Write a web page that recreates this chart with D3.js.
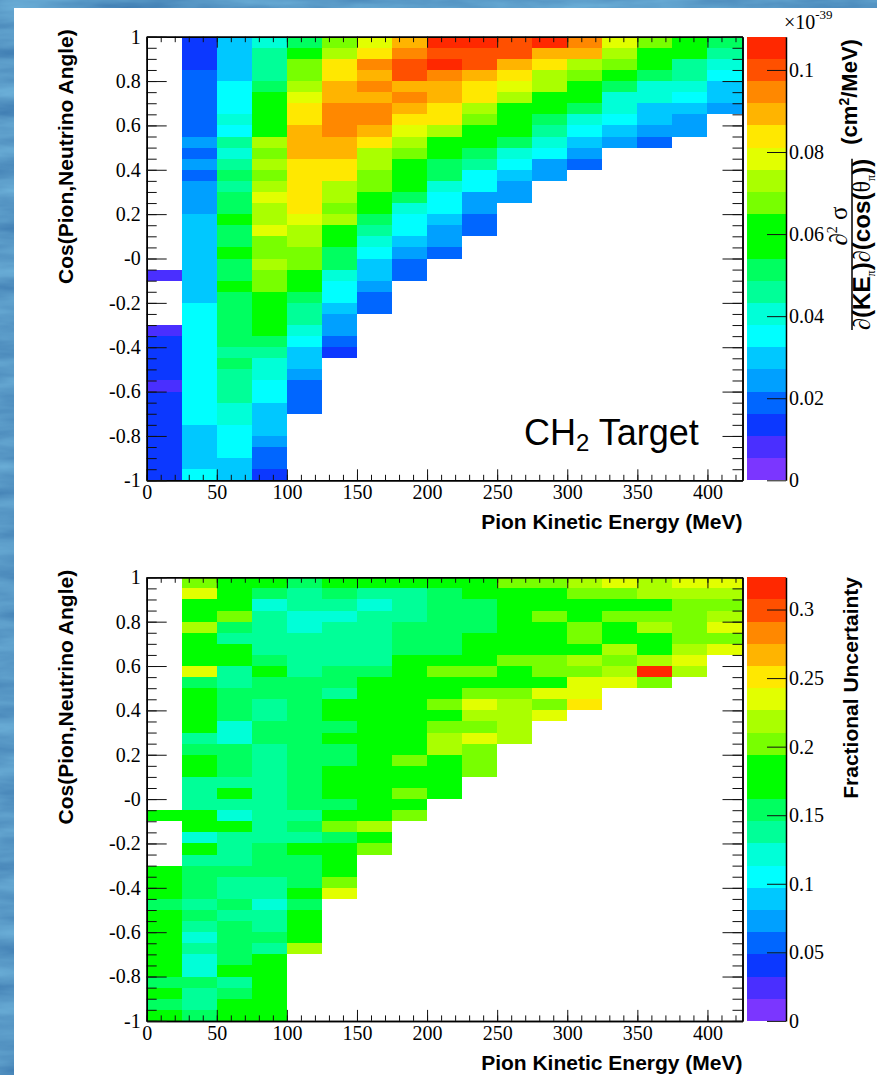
<!DOCTYPE html>
<html><head><meta charset="utf-8">
<script src="https://cdn.jsdelivr.net/npm/d3@7"></script>
<style>body{margin:0;background:#245494}svg{display:block}</style>
</head><body><svg id="c" width="877" height="1075"></svg>
<script>
const _ = null;
// bin edges
const energyEdges = [0,25,50,75,100,125,150,175,200,225,250,275,300,325,350,375,400,425];
const cosEdges = [1,0.95,0.9,0.85,0.8,0.75,0.7,0.65,0.6,0.55,0.5,0.45,0.4,0.35,0.3,0.25,0.2,0.15,0.1,0.05,0,
  -0.05,-0.1,-0.15,-0.2,-0.25,-0.3,-0.35,-0.4,-0.45,-0.5,-0.55,-0.6,-0.65,-0.7,-0.75,-0.8,-0.85,-0.9,-0.95,-1];
const xTickValues = [0,50,100,150,200,250,300,350,400];
const xTickLabels = ["0","50","100","150","200","250","300","350","400"];
const yTickValues = [1,0.8,0.6,0.4,0.2,0,-0.2,-0.4,-0.6,-0.8,-1];
const yTickLabels = ["1","0.8","0.6","0.4","0.2","-0","-0.2","-0.4","-0.6","-0.8","-1"];
const xsecTickValues = [0,0.02,0.04,0.06,0.08,0.1];
const xsecTickLabels = ["0","0.02","0.04","0.06","0.08","0.1"];
const uncTickValues = [0,0.05,0.1,0.15,0.2,0.25,0.3];
const uncTickLabels = ["0","0.05","0.1","0.15","0.2","0.25","0.3"];
const xsecMax = 0.1081;   // x10^-39 cm^2/MeV
const uncMax = 0.3235;
const palette = ["#7b36ff","#4a2fff","#0c38ff","#0066ff","#00a0ff","#00c8ff","#00ffff","#00ffd8","#00ff98","#00ff60",
  "#00ff00","#00ff00","#78ff00","#aaff00","#e2ff00","#ffe800","#ffb400","#ff8800","#ff5000","#ff2800"];

// cross section (rows from cos=1 down to cos=-1, columns 0..425 MeV)
const xsecRows = [
 [_,.014,.030,.040,.051,.068,.078,.089,.105,.105,.100,.105,.095,.078,.068,.060,.051],
 [_,.014,.030,.046,.060,.073,.084,.095,.100,.100,.100,.089,.089,.073,.060,.060,.046],
 [_,.014,.030,.046,.068,.084,.095,.100,.105,.100,.089,.084,.073,.068,.060,.046,.040],
 [_,.019,.030,.046,.068,.084,.089,.100,.095,.089,.084,.073,.068,.060,.051,.046,.035],
 [_,.019,.035,.051,.073,.089,.095,.089,.089,.084,.078,.073,.060,.051,.040,.040,.030],
 [_,.019,.035,.060,.078,.089,.089,.095,.089,.084,.073,.060,.060,.040,.040,.035,.030],
 [_,.019,.035,.060,.084,.095,.095,.089,.084,.073,.060,.060,.051,.040,.030,.030,.024],
 [_,.019,.040,.060,.084,.095,.095,.084,.084,.068,.060,.051,.040,.035,.030,.024],
 [_,.019,.035,.060,.089,.095,.089,.078,.073,.060,.060,.046,.035,.030,.024,.024],
 [_,.024,.046,.073,.089,.089,.084,.073,.060,.060,.051,.040,.030,.024,.019],
 [_,.019,.040,.068,.089,.089,.073,.068,.060,.051,.040,.035,.024],
 [_,.024,.046,.073,.084,.084,.073,.060,.051,.046,.035,.024,.019],
 [_,.019,.051,.068,.084,.084,.068,.060,.051,.035,.030,.024],
 [_,.024,.046,.073,.084,.073,.068,.060,.040,.035,.024],
 [_,.024,.051,.078,.084,.073,.060,.051,.035,.024,.024],
 [_,.024,.051,.073,.084,.068,.060,.040,.035,.024],
 [_,.030,.060,.073,.078,.073,.051,.035,.030,.019],
 [_,.030,.051,.078,.073,.060,.046,.035,.024,.019],
 [_,.030,.051,.068,.073,.060,.040,.030,.024],
 [_,.030,.060,.068,.068,.051,.035,.024,.019],
 [_,.030,.051,.073,.068,.051,.030,.019],
 [.008,.030,.051,.068,.060,.040,.030,.019],
 [_,.030,.060,.068,.060,.035,.024],
 [_,.030,.051,.060,.051,.035,.019],
 [_,.035,.051,.060,.046,.030,.019],
 [_,.035,.051,.060,.046,.024],
 [.008,.035,.051,.060,.040,.024],
 [.014,.035,.051,.051,.035,.019],
 [.014,.035,.046,.046,.030,.014],
 [.014,.035,.051,.040,.030],
 [.014,.035,.046,.040,.024],
 [.008,.035,.046,.035,.019],
 [.014,.035,.046,.035,.019],
 [.014,.035,.040,.030,.019],
 [.014,.035,.040,.030],
 [.014,.030,.035,.030],
 [.014,.030,.035,.024],
 [.014,.030,.035,.019],
 [.014,.030,.030,.019],
 [.014,.035,.030,.014]
];

// fractional uncertainty
const uncRows = [
 [_,.202,.180,.180,.154,.180,.180,.180,.180,.180,.202,.202,.218,.235,.218,.235,.235],
 [_,.235,.180,.154,.137,.154,.137,.137,.154,.180,.180,.180,.202,.202,.218,.218,.218],
 [_,.180,.180,.121,.137,.137,.121,.137,.154,.154,.180,.180,.180,.180,.180,.202,.202],
 [_,.180,.202,.137,.121,.121,.137,.137,.154,.154,.180,.202,.180,.202,.202,.202,.218],
 [_,.218,.154,.137,.121,.137,.137,.154,.154,.154,.180,.180,.202,.180,.218,.202,.235],
 [_,.180,.137,.137,.137,.137,.137,.154,.154,.180,.180,.180,.202,.180,.180,.202,.202],
 [_,.180,.180,.137,.137,.137,.137,.154,.154,.180,.180,.180,.180,.218,.180,.218,.235],
 [_,.180,.180,.154,.137,.137,.137,.180,.180,.180,.202,.202,.218,.202,.218,.235],
 [_,.235,.137,.180,.137,.154,.154,.180,.202,.202,.180,.202,.202,.218,.315,.218],
 [_,.154,.137,.154,.154,.154,.180,.180,.180,.180,.180,.180,.235,.235,.202],
 [_,.180,.154,.154,.154,.137,.180,.180,.180,.202,.202,.235,.235],
 [_,.180,.154,.137,.154,.180,.180,.180,.202,.235,.218,.202,.251],
 [_,.180,.154,.137,.154,.180,.180,.180,.180,.218,.218,.235],
 [_,.180,.121,.154,.154,.154,.180,.180,.202,.202,.218],
 [_,.137,.121,.154,.154,.180,.180,.180,.218,.235,.218],
 [_,.154,.154,.137,.154,.154,.180,.180,.218,.202],
 [_,.180,.154,.137,.154,.154,.180,.202,.180,.202],
 [_,.180,.154,.137,.154,.180,.180,.180,.180,.202],
 [_,.137,.137,.137,.154,.180,.180,.180,.180],
 [_,.137,.180,.137,.154,.180,.180,.202,.180],
 [_,.137,.137,.137,.154,.154,.180,.180],
 [.180,.180,.121,.137,.137,.180,.180,.202],
 [_,.180,.180,.137,.154,.202,.218],
 [_,.121,.137,.137,.137,.154,.180],
 [_,.180,.137,.154,.180,.180,.202],
 [_,.137,.137,.154,.154,.180],
 [.180,.154,.154,.154,.154,.180],
 [.180,.154,.137,.137,.154,.202],
 [.180,.154,.137,.137,.180,.235],
 [.154,.137,.154,.121,.154],
 [.180,.154,.137,.137,.180],
 [.180,.137,.154,.137,.180],
 [.180,.121,.154,.154,.180],
 [.180,.137,.154,.137,.218],
 [.180,.121,.154,.180],
 [.180,.121,.180,.180],
 [.154,.154,.137,.180],
 [.180,.137,.154,.180],
 [.154,.137,.180,.180],
 [.180,.154,.180,.180]
];

const W = 877, H = 1075;
const svg = d3.select("#c");
const defs = svg.append("defs");
const flt = defs.append("filter").attr("id","water").attr("x",0).attr("y",0).attr("width","100%").attr("height","100%");
flt.append("feTurbulence").attr("type","fractalNoise").attr("baseFrequency","0.01 0.05").attr("numOctaves",4).attr("seed",11).attr("result","n");
flt.append("feColorMatrix").attr("in","n").attr("type","matrix")
  .attr("values","0.14 0 0 0 0.03  0.32 0 0 0 0.16  0.34 0 0 0 0.40  0 0 0 0 1");
svg.append("rect").attr("width",W).attr("height",H).attr("fill","#245494");
svg.append("rect").attr("width",W).attr("height",H).attr("filter","url(#water)");
svg.append("rect").attr("x",14).attr("y",8).attr("width",W-14).attr("height",H-8).attr("fill","#fff");

const SERIF = "'Liberation Serif','Times New Roman',serif";
const SANS = "'Liberation Sans',Arial,Helvetica,sans-serif";

function styleAxis(sel, size){
  sel.attr("font-family",SERIF).attr("font-size",size||20).attr("color","#000");
  sel.selectAll("line").attr("stroke","#111").attr("stroke-width",1);
  sel.select(".domain").attr("stroke","#000").attr("stroke-width",1.5);
}

function panel(o){
  const top = o.top, bottom = o.top + 443.6;
  const x = d3.scaleLinear().domain([0,425]).range([146.7,742.5]);
  const y = d3.scaleLinear().domain([-1,1]).range([bottom, top]);
  const color = d3.scaleQuantize().domain([0,o.max]).range(palette);
  const g = svg.append("g");
  const cells = [];
  o.rows.forEach((row,r)=>row.forEach((v,c)=>{ if(v!=null) cells.push({r,c,v}); }));
  g.append("g").selectAll("rect").data(cells).join("rect")
    .attr("x",d=>x(energyEdges[d.c]))
    .attr("width",d=>x(energyEdges[d.c+1])-x(energyEdges[d.c]))
    .attr("y",d=>y(cosEdges[d.r]))
    .attr("height",d=>y(cosEdges[d.r+1])-y(cosEdges[d.r]))
    .attr("fill",d=>color(d.v))
    .attr("shape-rendering","crispEdges");

  const xMinor = d3.range(0,421,10);
  const yMinor = d3.range(-1,1.0001,0.05);
  g.append("g").attr("transform",`translate(0,${bottom})`)
    .call(d3.axisBottom(x).tickValues(xMinor).tickFormat("").tickSizeInner(-5.5).tickSizeOuter(0)).call(styleAxis);
  g.append("g").attr("transform",`translate(0,${bottom})`)
    .call(d3.axisBottom(x).tickValues(xTickValues).tickFormat((d,i)=>xTickLabels[i]).tickSizeInner(-11).tickSizeOuter(0).tickPadding(5))
    .call(styleAxis);
  g.append("g").attr("transform",`translate(0,${top})`)
    .call(d3.axisTop(x).tickValues(xMinor).tickFormat("").tickSizeInner(-5.5).tickSizeOuter(0)).call(styleAxis);
  g.append("g").attr("transform",`translate(0,${top})`)
    .call(d3.axisTop(x).tickValues(xTickValues).tickFormat("").tickSizeInner(-11).tickSizeOuter(0)).call(styleAxis);
  g.append("g").attr("transform",`translate(${x(0)},0)`)
    .call(d3.axisLeft(y).tickValues(yMinor).tickFormat("").tickSizeInner(-10).tickSizeOuter(0)).call(styleAxis);
  g.append("g").attr("transform",`translate(${x(0)},0)`)
    .call(d3.axisLeft(y).tickValues(yTickValues).tickFormat((d,i)=>yTickLabels[i]).tickSizeInner(-20).tickSizeOuter(0).tickPadding(6))
    .call(styleAxis);
  g.append("g").attr("transform",`translate(${x(425)},0)`)
    .call(d3.axisRight(y).tickValues(yMinor).tickFormat("").tickSizeInner(-10).tickSizeOuter(0)).call(styleAxis);
  g.append("g").attr("transform",`translate(${x(425)},0)`)
    .call(d3.axisRight(y).tickValues(yTickValues).tickFormat("").tickSizeInner(-20).tickSizeOuter(0)).call(styleAxis);

  g.append("text").attr("x",742.5).attr("y",bottom+49).attr("text-anchor","end")
    .attr("font-family",SANS).attr("font-weight","bold").attr("font-size",21)
    .text("Pion Kinetic Energy (MeV)");
  g.append("text").attr("transform",`translate(73,${top-7.5}) rotate(-90)`).attr("text-anchor","end")
    .attr("font-family",SANS).attr("font-weight","bold").attr("font-size",21)
    .text("Cos(Pion,Neutrino Angle)");

  const cb = d3.scaleLinear().domain([0,o.max]).range([bottom, top]);
  const edges = [0, ...color.thresholds(), o.max];
  g.append("g").selectAll("rect").data(palette).join("rect")
    .attr("x",747.3).attr("width",786-747.3)
    .attr("y",(d,i)=>cb(edges[i+1])).attr("height",(d,i)=>cb(edges[i])-cb(edges[i+1]))
    .attr("fill",d=>d).attr("shape-rendering","crispEdges");
  g.append("g").attr("transform","translate(786,0)")
    .call(d3.axisRight(cb).tickValues(o.cbTicks).tickFormat((d,i)=>o.cbLabels[i]).tickSizeInner(-19).tickSizeOuter(0).tickPadding(3))
    .call(styleAxis);
  return g;
}

const g1 = panel({top:36.7, rows:xsecRows, max:xsecMax, cbTicks:xsecTickValues, cbLabels:xsecTickLabels});
const g2 = panel({top:577.3, rows:uncRows, max:uncMax, cbTicks:uncTickValues, cbLabels:uncTickLabels});

// exponent label
const ex = g1.append("text").attr("x",784).attr("y",29).attr("font-family",SERIF).attr("font-size",20);
ex.append("tspan").text("×10");
ex.append("tspan").attr("font-size",13).attr("dy",-10).text("-39");

// CH2 Target
const ch = g1.append("text").attr("x",524).attr("y",445).attr("font-family",SANS).attr("font-size",36);
ch.append("tspan").text("CH");
ch.append("tspan").attr("font-size",24).attr("dy",6).text("2");
ch.append("tspan").attr("dy",-6).text(" Target");

// colour bar title (top)
const ct = g1.append("g").attr("transform","translate(851,330) rotate(-90)");
const den = ct.append("text").attr("x",0).attr("y",19).attr("font-size",21).attr("font-family",SANS).attr("font-weight","bold");
den.append("tspan").attr("font-family",SERIF).attr("font-weight","normal").text("∂");
den.append("tspan").text("(KE");
den.append("tspan").attr("class","sub").attr("font-size",11).attr("dy",4).attr("font-family",SERIF).attr("font-weight","normal").text("π");
den.append("tspan").attr("class","up").attr("dy",-4).text(")");
den.append("tspan").attr("font-family",SERIF).attr("font-weight","normal").text("∂");
den.append("tspan").text("(cos(");
den.append("tspan").attr("font-family",SERIF).attr("font-weight","normal").text("θ");
den.append("tspan").attr("class","sub").attr("font-size",11).attr("dy",4).attr("font-family",SERIF).attr("font-weight","normal").text("π");
den.append("tspan").attr("class","up").attr("dy",-4).text("))");
let denLen = den.node().getComputedTextLength();
const fs = 21*172/denLen;
den.attr("font-size",fs);
den.selectAll("tspan.sub").attr("font-size",fs*0.5).attr("dy",fs*0.2);
den.selectAll("tspan.up").attr("dy",-fs*0.2);
denLen = den.node().getComputedTextLength();
ct.append("line").attr("x1",0).attr("x2",denLen).attr("y1",1).attr("y2",1).attr("stroke","#000").attr("stroke-width",1.5);
const num = ct.append("text").attr("x",104).attr("y",-4).attr("text-anchor","middle").attr("font-family",SERIF).attr("font-size",25);
num.append("tspan").text("∂");
num.append("tspan").attr("font-size",14).attr("dy",-10).text("2");
num.append("tspan").attr("dy",10).text(" σ");
const un = ct.append("text").attr("x",denLen+14).attr("y",6).attr("font-family",SANS).attr("font-weight","bold").attr("font-size",22);
un.append("tspan").text("(cm");
un.append("tspan").attr("font-size",14).attr("dy",-8).text("2");
un.append("tspan").attr("dy",8).text("/MeV)");

// colour bar title (bottom)
g2.append("text").attr("transform","translate(858,577) rotate(-90)").attr("text-anchor","end")
  .attr("font-family",SANS).attr("font-weight","bold").attr("font-size",21).text("Fractional Uncertainty");
</script></body></html>
